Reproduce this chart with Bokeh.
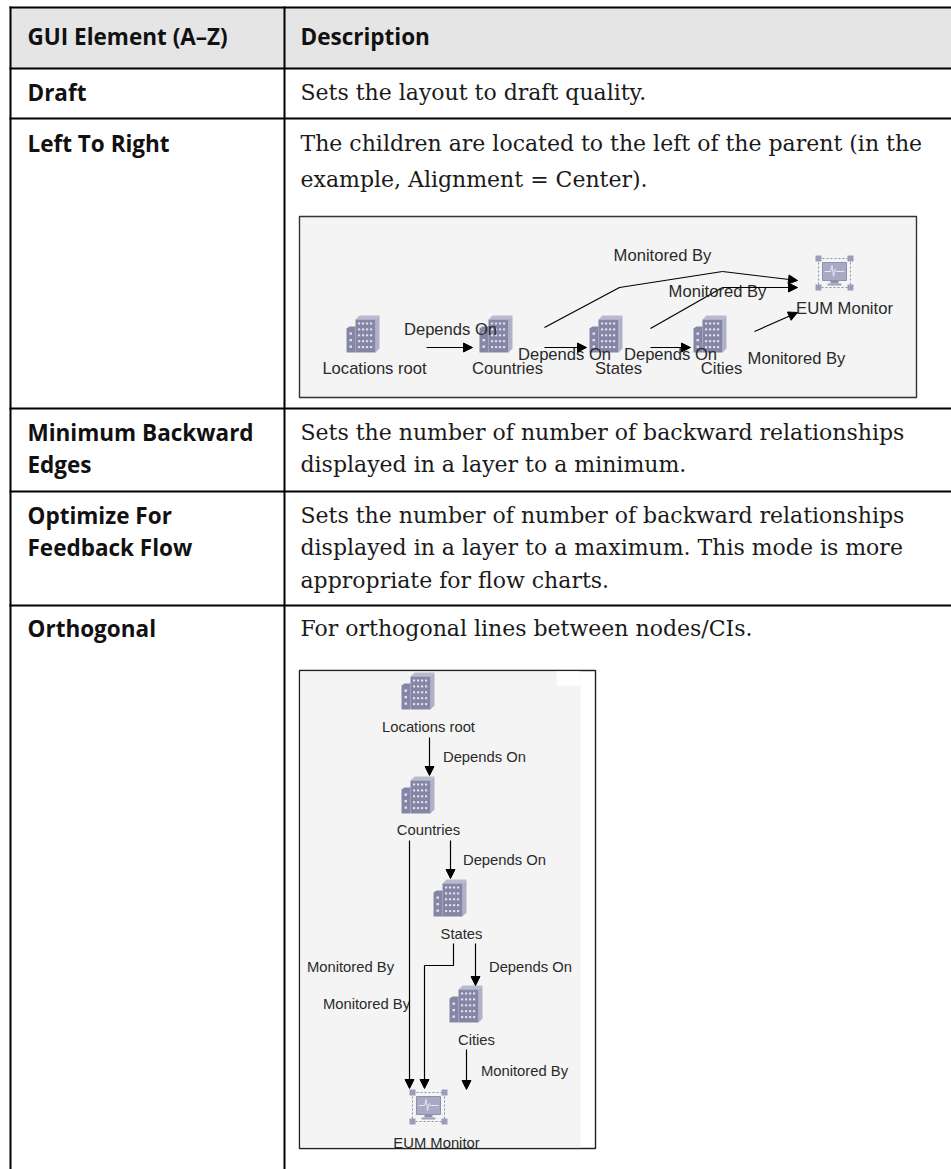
from bokeh.plotting import figure
from bokeh.models import Range1d, Arrow, NormalHead, ColumnDataSource
from bokeh.core.properties import value
from bokeh.embed import file_html
from bokeh.resources import INLINE

# ---------- table content ----------
headers = ["GUI Element (A\u2013Z)", "Description"]
elements = ["Draft", "Left To Right", "Minimum Backward", "Edges", "Optimize For", "Feedback Flow", "Orthogonal"]
element_baselines = [92, 143, 432, 464, 515, 547, 628]
descriptions = [
    "Sets the layout to draft quality.",
    "The children are located to the left of the parent (in the",
    "example, Alignment = Center).",
    "Sets the number of number of backward relationships",
    "displayed in a layer to a minimum.",
    "Sets the number of number of backward relationships",
    "displayed in a layer to a maximum. This mode is more",
    "appropriate for flow charts.",
    "For orthogonal lines between nodes/CIs.",
]
description_baselines = [92, 143, 179, 432, 464, 515, 547, 580, 628]
row_lines = [7, 68, 118, 408, 491, 605]

# ---------- first diagram (left to right) ----------
h_labels = ["Locations root", "Countries", "States", "Cities", "EUM Monitor",
            "Monitored By", "Monitored By", "Depends On", "Depends On", "Depends On", "Monitored By"]
h_label_x = [374, 507, 618, 721, 844, 662, 717, 450, 564, 670, 796]
h_label_y = [368, 368, 368, 368, 308, 255, 291, 329, 354, 354, 358]
h_buildings = [(346, 315), (479, 315), (589, 315), (693, 315)]
h_monitor = (815, 255)
h_routes = [
    ([544, 619, 722], [327, 287, 271], (797, 280)),
    ([650, 722], [328, 287], (797, 287)),
]
h_arrows = [((426, 347), (472, 347)), ((544, 347), (586, 347)), ((650, 347), (690, 347)),
            ((722, 271), (797, 280)), ((722, 287), (797, 287)), ((754, 331), (797, 312))]

# ---------- second diagram (orthogonal) ----------
v_labels = ["Locations root", "Countries", "States", "Cities", "EUM Monitor",
            "Depends On", "Depends On", "Depends On", "Monitored By", "Monitored By", "Monitored By"]
v_label_x = [428, 428, 461, 476, 436, 484, 504, 530, 350, 366, 524]
v_label_y = [726, 829, 933, 1039, 1142, 756, 859, 966, 966, 1003, 1070]
v_buildings = [(401, 672), (401, 776), (433, 879), (449, 985)]
v_monitor = (409, 1089)
v_routes = [([453, 453, 424], [943, 965, 965], None)]
v_arrows = [((429, 737), (429, 775)), ((409, 840), (409, 1088)), ((450, 840), (450, 878)),
            ((424, 965), (424, 1088)), ((475, 943), (475, 985)), ((466, 1049), (466, 1089))]

p = figure(width=951, height=1169, x_range=Range1d(0, 951), y_range=Range1d(1169, 0),
           output_backend="svg", toolbar_location=None, min_border=0,
           background_fill_color="white", border_fill_color="white", outline_line_color=None)
p.axis.visible = False
p.grid.visible = False
p.styles = {"position": "absolute", "top": "0", "left": "0"}

# header band
p.quad(left=[10], right=[951], top=[7], bottom=[68], fill_color="#e5e5e5", line_color=None)

# diagram panels
p.quad(left=[299], right=[916], top=[216], bottom=[397], fill_color="#f4f4f4", line_color="#333333", line_width=1.4)
p.quad(left=[299], right=[595], top=[670], bottom=[1148], fill_color="white", line_color="#222222", line_width=1.4)
p.quad(left=[300], right=[580], top=[671], bottom=[1147], fill_color="#f4f4f4", line_color=None)
p.quad(left=[556], right=[580], top=[671], bottom=[685], fill_color="white", line_color=None)

# table rules
for y in row_lines:
    p.line([9, 951], [y, y], line_color="black", line_width=2)
p.line([10, 10], [6, 1169], line_color="black", line_width=2)
p.line([284, 284], [6, 1169], line_color="black", line_width=2)


def draw_building(x, y, sx=1.0):
    front = "#8585a5"
    def X(v): return x + v * sx
    p.patches(
        xs=[[X(9), X(13), X(33), X(29)], [X(29), X(33), X(33), X(29)],
            [X(0), X(3), X(9), X(9), X(0)], [X(9), X(29), X(29), X(9)]],
        ys=[[y + 4, y, y, y + 4], [y + 4, y, y + 33, y + 37],
            [y + 13, y + 11, y + 11, y + 37, y + 37], [y + 4, y + 4, y + 37, y + 37]],
        fill_color=["#b9b9cf", "#b0b0c8", front, front], line_color=None)
    wl, wr, wt, wb = [], [], [], []
    for row in range(5):
        for col in range(4):
            wl.append(X(11.5 + col * 4)); wr.append(X(13.7 + col * 4))
            wt.append(y + 7 + row * 5.9); wb.append(y + 9 + row * 5.9)
    for row in range(3):
        wl.append(X(3)); wr.append(X(5.5))
        wt.append(y + 17 + row * 6.5); wb.append(y + 19.3 + row * 6.5)
    p.quad(left=wl, right=wr, top=wt, bottom=wb, fill_color="#e2e2ee", line_color=None)


def draw_monitor(x, y):
    # dashed selection frame, corner handles, screen and pulse
    p.quad(left=[x + 3], right=[x + 35], top=[y + 3], bottom=[y + 32], fill_color=None,
           line_color="#8c8cac", line_width=1, line_dash="2 2")
    p.quad(left=[x + 7], right=[x + 31], top=[y + 7], bottom=[y + 25], fill_color="#a9a9c3", line_color="#9090ae")
    p.quad(left=[x + 15], right=[x + 23], top=[y + 25], bottom=[y + 28], fill_color="#9090ae", line_color=None)
    p.quad(left=[x + 12], right=[x + 26], top=[y + 28], bottom=[y + 30], fill_color="#a0a0ba", line_color=None)
    p.line([x + 9, x + 15, x + 16.5, x + 18, x + 19.5, x + 21, x + 29],
           [y + 16, y + 16, y + 10, y + 21, y + 14, y + 16, y + 16], line_color="#e6e6f0", line_width=1)
    p.quad(left=[x, x + 32, x, x + 32], right=[x + 6, x + 38, x + 6, x + 38],
           top=[y, y, y + 29, y + 29], bottom=[y + 6, y + 6, y + 35, y + 35],
           fill_color="#9c9cb8", line_color=None)


for bx, by in h_buildings:
    draw_building(bx, by)
draw_monitor(*h_monitor)
for bx, by in v_buildings:
    draw_building(bx, by)
draw_monitor(*v_monitor)

# routed edges
for xs, ys, end in h_routes + v_routes:
    xx = list(xs); yy = list(ys)
    p.line(xx, yy, line_color="black", line_width=1.2)

for segs in (h_arrows, v_arrows):
    src = ColumnDataSource(dict(
        x0=[s[0][0] for s in segs], y0=[s[0][1] for s in segs],
        x1=[s[1][0] for s in segs], y1=[s[1][1] for s in segs]))
    p.add_layout(Arrow(end=NormalHead(size=9, fill_color="black", line_color="black"),
                       x_start="x0", y_start="y0", x_end="x1", y_end="y1", source=src,
                       line_color="black", line_width=1.2))

# table text
BOLD = value("Open Sans")
SERIF = value("DejaVu Serif")
p.text(x=[27, 300], y=[36, 36], text=headers, text_font=BOLD, text_font_style="bold",
       text_font_size="22.5px", text_color="#111111", text_baseline="alphabetic")
p.text(x=[27] * len(elements), y=element_baselines, text=elements, text_font=BOLD, text_font_style="bold",
       text_font_size="22.5px", text_color="#111111", text_baseline="alphabetic")
p.text(x=[300] * len(descriptions), y=description_baselines, text=descriptions, text_font=SERIF,
       text_font_size="22px", text_color="#1a1a1a", text_baseline="alphabetic")

# diagram text
SANS = value("Liberation Sans")
p.text(x=h_label_x, y=h_label_y, text=h_labels, text_font=SANS, text_font_size="16.6px", text_color="#2a2a2a",
       text_align="center", text_baseline="middle")
p.text(x=v_label_x, y=v_label_y, text=v_labels, text_font=SANS, text_font_size="14.8px", text_color="#2a2a2a",
       text_align="center", text_baseline="middle")

open("out.html", "w").write(file_html(p, INLINE))
